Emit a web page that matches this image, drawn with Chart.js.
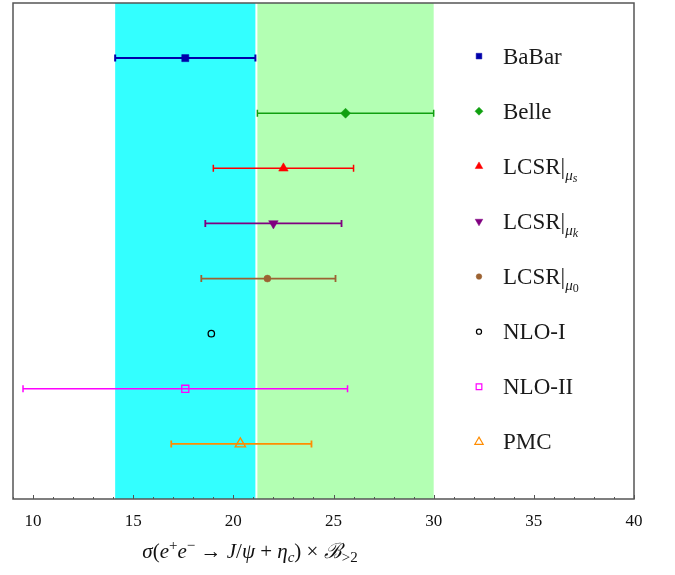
<!DOCTYPE html>
<html><head><meta charset="utf-8">
<script src="https://cdn.jsdelivr.net/npm/chart.js@4/dist/chart.umd.min.js"></script>
<style>html,body{margin:0;padding:0;background:#fff}canvas{display:block}</style>
</head><body>
<canvas id="c" width="675" height="575"></canvas>
<script>
// ---------- data ----------
const categories = ['BaBar', 'Belle', 'LCSR|μs', 'LCSR|μk', 'LCSR|μ0', 'NLO-I', 'NLO-II', 'PMC'];
const centralValues = [17.6, 25.6, 22.5, 22.0, 21.7, 18.9, 17.6, 20.35];
const lowerValues   = [14.1, 21.2, 19.0, 18.6, 18.4, null, 9.5, 16.9];
const upperValues   = [21.1, 30.0, 26.0, 25.4, 25.1, null, 25.7, 23.9];
const rowPositions  = [1, 2, 3, 4, 5, 6, 7, 8];
const xTickValues   = [10, 15, 20, 25, 30, 35, 40];
const legendMain = ['BaBar', 'Belle', 'LCSR|', 'LCSR|', 'LCSR|', 'NLO-I', 'NLO-II', 'PMC'];
const legendSubA = ['', '', 'μ', 'μ', 'μ', '', '', ''];
const legendSubB = ['', '', 's', 'k', '0', '', '', ''];

// ---------- styles ----------
const colors = ['#0000AA', '#10A010', '#FF0000', '#800080', '#9C6232', '#000000', '#FF00FF', '#FF8C00'];
const styles = [
  {ps: 'rect', r: 5, fill: true, rot: 0, lw: 2},
  {ps: 'rectRot', r: 5, fill: true, rot: 0, lw: 1.5},
  {ps: 'triangle', r: 5.5, fill: true, rot: 0, lw: 1.5},
  {ps: 'triangle', r: 5.5, fill: true, rot: 180, lw: 1.8},
  {ps: 'circle', r: 3.5, fill: true, rot: 0, lw: 1.8},
  {ps: 'circle', r: 3.2, fill: false, rot: 0, lw: 1.2},
  {ps: 'rect', r: 5, fill: false, rot: 0, lw: 1.5},
  {ps: 'triangle', r: 6, fill: false, rot: 0, lw: 1.8}
];
const bandColors = ['#33FFFF', '#B3FFB3'];
const SERIF = '"Liberation Serif", "DejaVu Serif", serif';

const datasets = categories.map((c, i) => ({
  label: c,
  data: [{x: centralValues[i], y: rowPositions[i]}],
  pointStyle: styles[i].ps,
  pointRadius: styles[i].r,
  pointRotation: styles[i].rot,
  backgroundColor: styles[i].fill ? colors[i] : 'rgba(0,0,0,0)',
  borderColor: colors[i],
  borderWidth: styles[i].fill ? 0.5 : 1.3,
  showLine: false
}));

function drawRich(ctx, parts, x, baseline, align) {
  let w = 0;
  parts.forEach(p => { ctx.font = p.font; w += ctx.measureText(p.t).width; });
  let cx = align === 'center' ? x - w / 2 : x;
  ctx.textBaseline = 'alphabetic';
  ctx.textAlign = 'left';
  parts.forEach(p => {
    ctx.font = p.font;
    ctx.fillText(p.t, cx, baseline + (p.dy || 0));
    cx += ctx.measureText(p.t).width;
  });
}

const customPlugin = {
  id: 'custom',
  beforeDatasetsDraw(chart) {
    const {ctx, chartArea: a, scales: {x, y}} = chart;
    ctx.save();
    [0, 1].forEach(i => {
      const x0 = x.getPixelForValue(lowerValues[i]);
      const x1 = x.getPixelForValue(upperValues[i]);
      ctx.fillStyle = bandColors[i];
      ctx.fillRect(x0, a.top, x1 - x0, a.bottom - a.top);
    });
    categories.forEach((c, i) => {
      if (lowerValues[i] == null) return;
      const yy = y.getPixelForValue(rowPositions[i]);
      const x0 = x.getPixelForValue(lowerValues[i]);
      const x1 = x.getPixelForValue(upperValues[i]);
      ctx.strokeStyle = colors[i];
      ctx.lineWidth = styles[i].lw;
      ctx.beginPath();
      ctx.moveTo(x0, yy); ctx.lineTo(x1, yy);
      ctx.moveTo(x0, yy - 3.5); ctx.lineTo(x0, yy + 3.5);
      ctx.moveTo(x1, yy - 3.5); ctx.lineTo(x1, yy + 3.5);
      ctx.stroke();
    });
    ctx.restore();
  },
  afterDraw(chart) {
    const {ctx, chartArea: a, scales: {x, y}} = chart;
    ctx.save();
    // frame
    ctx.strokeStyle = '#555';
    ctx.lineWidth = 1.5;
    ctx.strokeRect(a.left, a.top, a.right - a.left, a.bottom - a.top);
    // inward ticks
    ctx.lineWidth = 1;
    ctx.beginPath();
    for (let v = Math.ceil(x.min); v <= x.max; v++) {
      const px = Math.round(x.getPixelForValue(v)) + 0.5;
      const len = xTickValues.includes(v) ? 4 : 2;
      ctx.moveTo(px, a.bottom); ctx.lineTo(px, a.bottom - len);
    }
    ctx.stroke();
    // legend
    const lx = 479, tx = 503;
    categories.forEach((c, i) => {
      const yy = y.getPixelForValue(rowPositions[i]) - 2;
      const s = styles[i];
      ctx.fillStyle = s.fill ? colors[i] : 'rgba(0,0,0,0)';
      ctx.strokeStyle = colors[i];
      ctx.lineWidth = s.fill ? 0.5 : 1.2;
      Chart.helpers.drawPoint(ctx, {pointStyle: s.ps, rotation: s.rot, radius: s.r * 0.8, borderWidth: ctx.lineWidth}, lx, yy);
      ctx.fillStyle = '#1a1a1a';
      const parts = [{t: legendMain[i], font: '23px ' + SERIF}];
      if (legendSubA[i]) {
        parts.push({t: legendSubA[i], font: 'italic 15px ' + SERIF, dy: 6});
        parts.push({t: legendSubB[i], font: (/[0-9]/.test(legendSubB[i]) ? '' : 'italic ') + '12px ' + SERIF, dy: 8});
      }
      drawRich(ctx, parts, tx, yy + 7.5, 'left');
    });
    // axis title
    ctx.fillStyle = '#111';
    const I = 'italic 21px ' + SERIF, R = '21px ' + SERIF, S = '15px ' + SERIF, SI = 'italic 15px ' + SERIF;
    drawRich(ctx, [
      {t: 'σ', font: I}, {t: '(', font: R}, {t: 'e', font: I}, {t: '+', font: S, dy: -8},
      {t: 'e', font: I}, {t: '−', font: S, dy: -8}, {t: ' → ', font: R},
      {t: 'J', font: I}, {t: '/', font: R}, {t: 'ψ', font: I}, {t: ' + ', font: R},
      {t: 'η', font: I}, {t: 'c', font: SI, dy: 4}, {t: ')', font: R}, {t: ' × ', font: R},
      {t: 'ℬ', font: I}, {t: '>2', font: S, dy: 4}
    ], 250, 558, 'center');
    ctx.restore();
  }
};

new Chart(document.getElementById('c'), {
  type: 'scatter',
  data: {datasets},
  options: {
    responsive: false,
    animation: false,
    devicePixelRatio: 1,
    layout: {autoPadding: false, padding: {left: 13, right: 41, top: 3, bottom: 0}},
    plugins: {legend: {display: false}, tooltip: {enabled: false}},
    scales: {
      x: {
        type: 'linear', min: 9, max: 40,
        afterFit: s => { s.height = 76; },
        grid: {display: false, drawTicks: false},
        border: {display: false},
        ticks: {
          stepSize: 1, autoSkip: false, maxRotation: 0, padding: 12,
          color: '#111', font: {family: SERIF, size: 17},
          callback: v => xTickValues.includes(v) ? String(v) : ''
        }
      },
      y: {type: 'linear', min: 0, max: 9, reverse: true, display: false}
    }
  },
  plugins: [customPlugin]
});
</script>
</body></html>
